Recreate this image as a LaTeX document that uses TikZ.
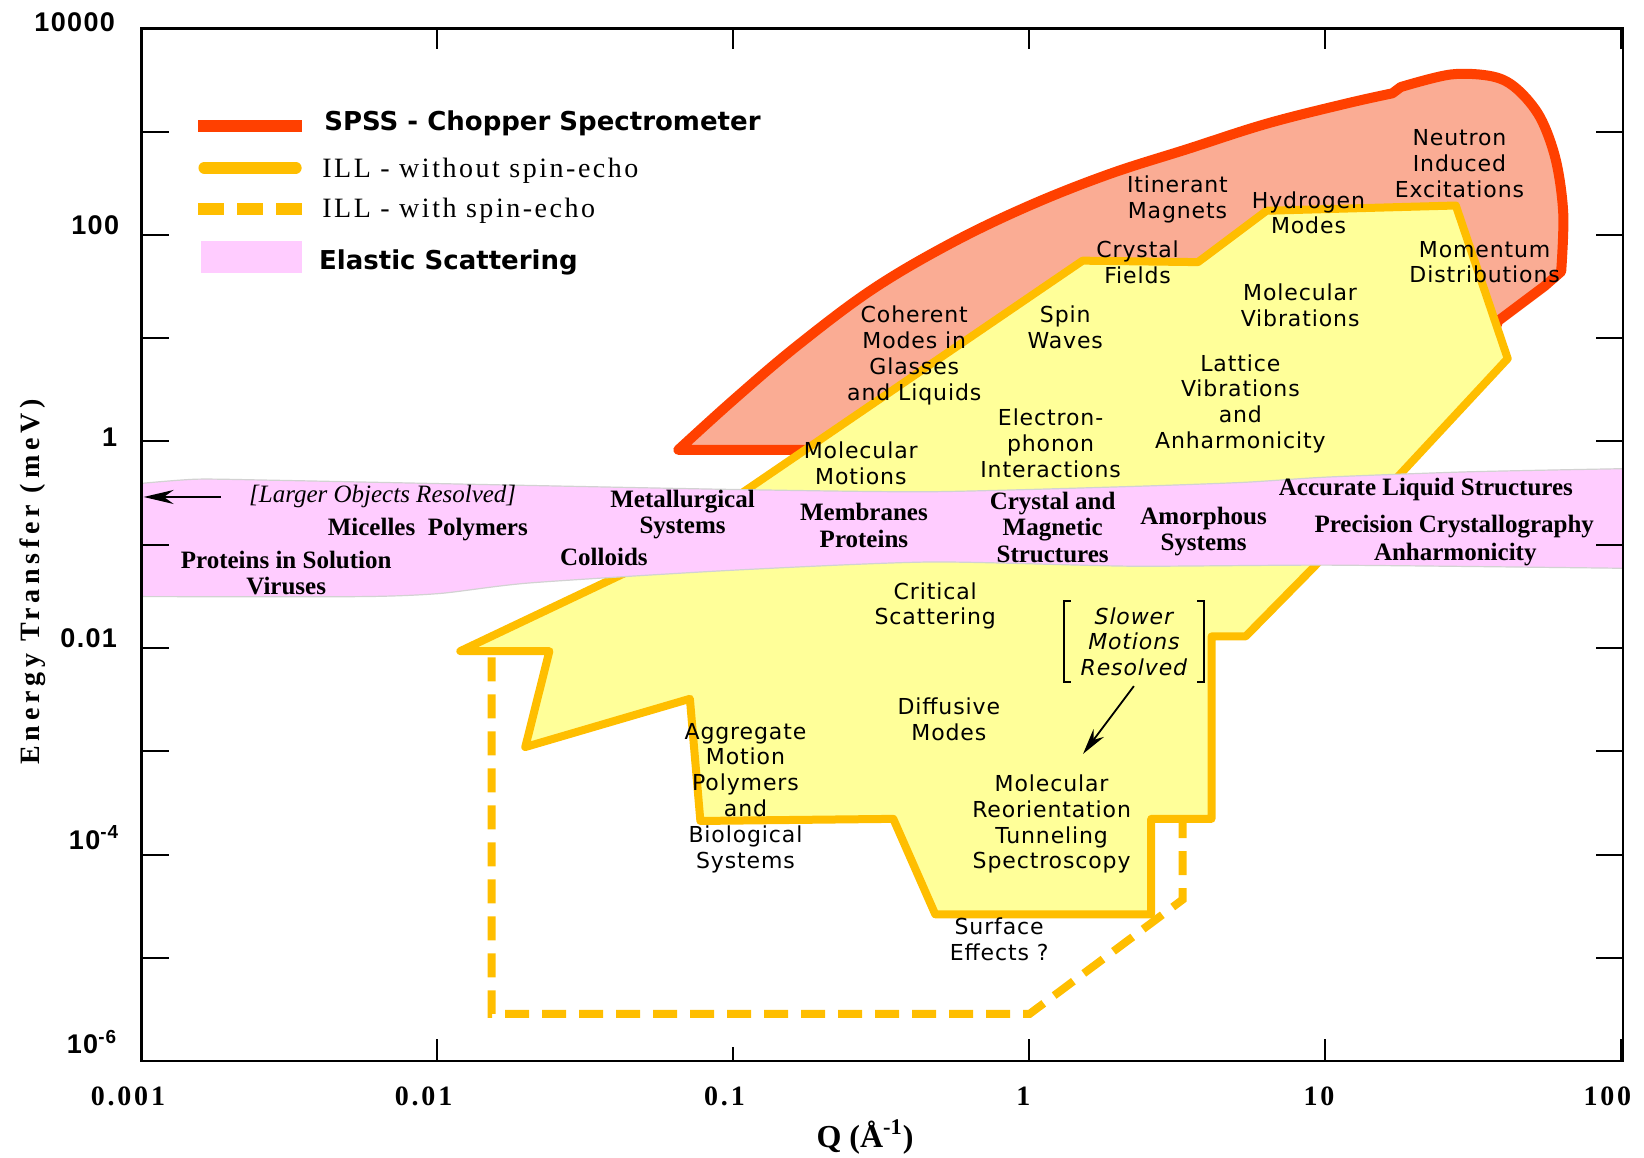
\documentclass[tikz,border=0pt]{standalone}
\usepackage{fontspec}
\usetikzlibrary{arrows.meta}
\setmainfont{Liberation Serif}
\newfontfamily\areafont[LetterSpace=4,ItalicFont={DejaVu Sans Oblique}]{DejaVu Sans}
\newfontfamily\legendfont{DejaVu Sans}
\newfontfamily\illfont[LetterSpace=9]{Liberation Serif}
\newfontfamily\titlefont[LetterSpace=17]{Liberation Serif}
\newfontfamily\ytickfont[LetterSpace=5]{Liberation Sans}
\newfontfamily\xtickfont[LetterSpace=10]{Liberation Serif}
\newfontfamily\bandfont{Liberation Serif}
\definecolor{spssred}{RGB}{255,64,0}
\definecolor{spssfill}{RGB}{250,172,148}
\definecolor{illgold}{RGB}{255,190,0}
\definecolor{illfill}{RGB}{255,255,153}
\definecolor{elastic}{RGB}{255,204,255}
\begin{document}
\begin{tikzpicture}[x=0.52425pt, y=-0.52425pt,
    spss/.style={draw=spssred, fill=spssfill, line width=5pt, line join=round},
    ill/.style={draw=illgold, fill=illfill, line width=4pt, line join=round},
    illdash/.style={draw=illgold, line width=4pt, dash pattern=on 12pt off 6.5pt},
    band/.style={fill=elastic, draw=gray!35, line width=0.6pt},
    area/.style={font=\areafont\fontsize{11}{12.9}\selectfont, align=center, inner sep=0pt},
    elabel/.style={font=\bandfont\bfseries\fontsize{12.5}{13.2}\selectfont, align=center, inner sep=0pt},
    axistick/.style={line width=1pt},
    ylab/.style={font=\ytickfont\bfseries\fontsize{13.5}{15}\selectfont, anchor=base east, inner sep=0pt},
    xlab/.style={font=\xtickfont\bfseries\fontsize{14}{16}\selectfont, anchor=base, inner sep=0pt},
    pointer/.style={-{Stealth[length=13pt,width=6.5pt]}, line width=0.9pt},
    legline/.style={line width=6pt},
    legtext/.style={anchor=west, inner sep=0pt}
]
    \useasboundingbox (0,0) rectangle (1568,1104);

    \draw[spss] (647,429)
        -- plot[smooth, tension=0.6] coordinates {(647,429) (700,381) (760,330) (832,276) (907,232) (982,196) (1058,166) (1133,142) (1208,118) (1283,99) (1328,89)}
        -- (1336,83)
        -- plot[smooth, tension=0.55] coordinates {(1336,83) (1384,71) (1424,73) (1447,85) (1469,112) (1484,153) (1491,204) (1489,259)}
        -- (1473,273) -- (1429,306) -- (1420,330) -- (790,429) -- cycle;

    \draw[ill] (439,621) -- (595,547) -- (1032.6,248.6) -- (1142.6,250) -- (1208,201)
        -- (1388.5,196) -- (1438,342) -- (1253,541) -- (1188,607) -- (1155.5,607)
        -- (1155.5,781) -- (1098,781) -- (1098,872) -- (892,872) -- (852,781)
        -- (668,783) -- (658,666.5) -- (501,712.5) -- (524,621) -- cycle;

    \draw[illdash] (469,627) -- (469,967) -- (982,967) -- (1128,858) -- (1128,781);

    \draw[band] plot[smooth, tension=0.4] coordinates {(135,461) (188,457) (260,458) (505,463) (709,467) (887,469) (1078,464) (1187,460) (1266,455) (1400,450) (1548,447)}
        -- plot[smooth, tension=0.4] coordinates {(1548,542) (1268,539) (1078,540) (887,536) (696,544) (505,556) (420,566) (346,569) (135,569)}
        -- cycle;

    \draw[line width=1.2pt] (135,27) rectangle (1548,1012);
    \foreach \j in {1,...,9} {
        \draw[axistick] (135,{27+98.5*\j}) -- ++(26,0);
        \draw[axistick] (1548,{27+98.5*\j}) -- ++(-26,0);
    }
    \foreach \i/\len in {1/21,2/13,3/21,4/21,5/21} {
        \draw[axistick] ({135+282.2*\i},27) -- ++(0,20);
        \draw[axistick] ({135+282.2*\i},1012) -- ++(0,-\len);
    }

    \node[ylab] (e4) at (110,30) {10000};
    \node[ylab] (e2) at (114,224) {100};
    \node[ylab] (e0) at (112,426) {1};
    \node[ylab] (em2) at (112,618) {0.01};
    \node[ylab] (em4) at (114,810) {10\textsuperscript{-4}};
    \node[ylab] (em6) at (112,1005) {10\textsuperscript{-6}};
    \foreach \x/\t [count=\k] in {122/0.001, 404/0.01, 691/0.1, 976/1, 1258/10, 1533/100}
        \node[xlab] (q\k) at (\x,1054) {\t};
    \node[font=\titlefont\bfseries\fontsize{14}{16}\selectfont, rotate=90] (etitle) at (31,555) {Energy Transfer (meV)};
    \node[font=\bandfont\bfseries\fontsize{16}{18}\selectfont, anchor=base] (qtitle) at (825,1094) {Q (Å\textsuperscript{-1})};

    \draw[legline, spssred] (189,120) -- (288,120);
    \node[legtext, font=\legendfont\bfseries\fontsize{13}{15}\selectfont] (legspss) at (309,118) {SPSS - Chopper Spectrometer};
    \draw[legline, illgold, line cap=round] (195,160) -- (282,160);
    \node[legtext, font=\illfont\fontsize{14}{16}\selectfont] (legill) at (307,163) {ILL - without spin-echo};
    \draw[legline, illgold, dash pattern=on 13pt off 6.5pt] (189,199) -- (288,199);
    \node[legtext, font=\illfont\fontsize{14}{16}\selectfont] (legecho) at (307,201) {ILL - with spin-echo};
    \fill[elastic] (192,230) rectangle (288,260);
    \node[legtext, font=\legendfont\bfseries\fontsize{13}{15}\selectfont] (legelastic) at (304,250) {Elastic Scattering};

    \node[area] (neutron) at (1392,156) {Neutron\\Induced\\Excitations};
    \node[area] (itinerant) at (1123,190) {Itinerant\\Magnets};
    \node[area] (hydrogen) at (1248,203) {Hydrogen\\Modes};
    \node[area] (crystalfields) at (1085,250) {Crystal\\Fields};
    \node[area] (momentum) at (1416,250) {Momentum\\Distributions};
    \node[area] (molvib) at (1240,291) {Molecular\\Vibrations};
    \node[area] (coherent) at (872,339) {Coherent\\Modes in\\Glasses\\and Liquids};
    \node[area] (spin) at (1016,312) {Spin\\Waves};
    \node[area] (lattice) at (1183,385) {Lattice\\Vibrations\\and\\Anharmonicity};
    \node[area] (electron) at (1002,423) {Electron-\\phonon\\Interactions};
    \node[area] (molmotion) at (821,442) {Molecular\\Motions};
    \node[area] (critical) at (892,578) {Critical\\Scattering};
    \node[area, font=\areafont\itshape\fontsize{11}{12.9}\selectfont, minimum width=69.7pt, minimum height=40pt] (slower) at (1081.5,612) {Slower\\Motions\\Resolved};
    \node[area] (diffusive) at (905,686) {Diffusive\\Modes};
    \node[area] (aggregate) at (711,761) {Aggregate\\Motion\\Polymers\\and\\Biological\\Systems};
    \node[area] (reorient) at (1003,786) {Molecular\\Reorientation\\Tunneling\\Spectroscopy};
    \node[area] (surface) at (953,896) {Surface\\Effects ?};

    \draw[line width=0.8pt] ([xshift=3.5pt]slower.north west) -- (slower.north west) -- (slower.south west) -- ([xshift=3.5pt]slower.south west);
    \draw[line width=0.8pt] ([xshift=-3.5pt]slower.north east) -- (slower.north east) -- (slower.south east) -- ([xshift=-3.5pt]slower.south east);
    \coordinate (slowtip) at (1033,719);
    \draw[pointer] ([yshift=-2pt]slower.south) -- (slowtip);

    \node[elabel, font=\bandfont\itshape\fontsize{12.5}{13.2}\selectfont] (larger) at (365,474) {[Larger Objects Resolved]};
    \coordinate (largertip) at (137,474);
    \draw[pointer, -{Stealth[length=15pt,width=7pt]}] ([xshift=-14pt]larger.west) -- (largertip);
    \node[elabel] (micelles) at (408,505) {Micelles~ Polymers};
    \node[elabel] (proteins) at (273,534) {Proteins in Solution};
    \node[elabel] (viruses) at (273,559) {Viruses};
    \node[elabel] (metallurgical) at (651,491) {Metallurgical\\Systems};
    \node[elabel] (colloids) at (576,531) {Colloids};
    \node[elabel] (membranes) at (824,501) {Membranes\\Proteins};
    \node[elabel] (crystalmag) at (1004,503) {Crystal and\\Magnetic\\Structures};
    \node[elabel] (amorphous) at (1148,507) {Amorphous\\Systems};
    \node[elabel] (liquid) at (1360,467) {Accurate Liquid Structures};
    \node[elabel] (precision) at (1387,502) {Precision Crystallography};
    \node[elabel] (anharm) at (1388,529) {Anharmonicity};
\end{tikzpicture}
\end{document}
